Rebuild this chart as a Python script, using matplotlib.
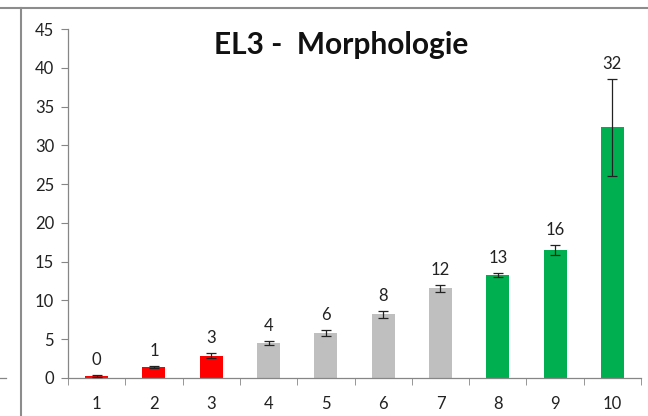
import numpy as np
import matplotlib
matplotlib.use("Agg")
import matplotlib.pyplot as plt
from matplotlib.lines import Line2D

categories = ["1", "2", "3", "4", "5", "6", "7", "8", "9", "10"]
values = [0.3, 1.4, 2.9, 4.5, 5.8, 8.2, 11.6, 13.3, 16.5, 32.3]
errors = [0.15, 0.15, 0.3, 0.3, 0.35, 0.4, 0.45, 0.3, 0.6, 6.3]
labels = ["0", "1", "3", "4", "6", "8", "12", "13", "16", "32"]
colors = ["#FF0000"] * 3 + ["#BFBFBF"] * 4 + ["#00B050"] * 3

plt.rcParams['font.family'] = ['Lato', 'DejaVu Sans']

fig = plt.figure(figsize=(6.48, 4.16), dpi=100)
W, H = 648, 416
ax = fig.add_axes([68 / W, 1 - 378 / H, (641 - 68) / W, (378 - 29) / H])

x = np.arange(len(categories))
ax.bar(x, values, width=0.4, color=colors, zorder=2)
ax.errorbar(x, values, yerr=errors, fmt='none', ecolor='#222222',
            elinewidth=0.9, capsize=3.5, capthick=0.9, zorder=3)

for xi, v, e, lab in zip(x, values, errors, labels):
    ax.annotate(lab, (xi, v + e), xytext=(0, 5), textcoords='offset points',
                ha='center', va='bottom', fontsize=12, color='#222222')

ax.set_xlim(-0.5, len(categories) - 0.5)
ax.set_ylim(0, 45)
ax.set_yticks(np.arange(0, 46, 5))
ax.set_xticks(x)
ax.set_xticklabels(categories)
ax.set_xticks(np.arange(-0.5, len(categories), 1), minor=True)
ax.tick_params(axis='x', which='major', length=0, pad=13, labelsize=12, labelcolor='#222222')
ax.tick_params(axis='x', which='minor', length=5, color='#868686', direction='out')
ax.tick_params(axis='y', length=5, color='#868686', labelsize=12, labelcolor='#222222', pad=5)
for s in ['top', 'right']:
    ax.spines[s].set_visible(False)
for s in ['left', 'bottom']:
    ax.spines[s].set_color('#868686')
    ax.spines[s].set_linewidth(0.9)

ax.text(0.477, 0.955, "EL3 -  Morphologie", transform=ax.transAxes, ha='center',
        va='center', fontsize=21.5, fontweight='bold', color='#111111')

# frame remnants of neighbouring charts
fig.add_artist(Line2D([0, 1], [1 - 8 / H, 1 - 8 / H], transform=fig.transFigure,
                      color='#8c8c8c', lw=1.5))
fig.add_artist(Line2D([21 / W, 21 / W], [0, 1 - 8 / H], transform=fig.transFigure,
                      color='#8c8c8c', lw=1.5))
fig.add_artist(Line2D([0, 6 / W], [1 - 378 / H, 1 - 378 / H], transform=fig.transFigure,
                      color='#868686', lw=0.9))

fig.savefig("out.png", dpi=100)
